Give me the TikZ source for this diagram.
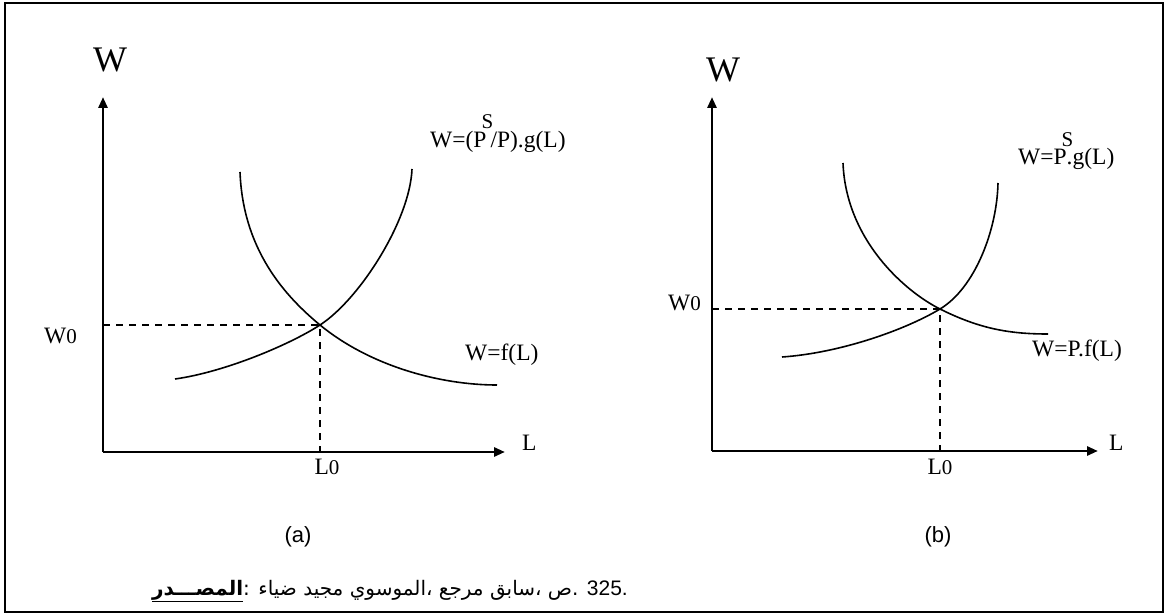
\documentclass[tikz,border=0pt]{standalone}
\usepackage{fontspec}
\setmainfont{Liberation Serif}
\newfontfamily\sansf{Liberation Sans}
\newfontfamily\arabicfont[Script=Arabic]{DejaVu Sans}
\TeXXeTstate=1
\usetikzlibrary{arrows.meta}
\newcommand\fsz[1]{\fontsize{#1}{#1}\selectfont}
\newcommand\ar[1]{\beginR#1\endR}
\tikzset{
  axisline/.style={line width=2.8pt,-{Triangle[length=11pt,width=9pt]}},
  dsh/.style={line width=1.5pt,dash pattern=on 7pt off 6pt},
  curve/.style={line width=1.6pt},
  lbl/.style={inner sep=0pt,font=\fsz{23.5}},
  big/.style={inner sep=0pt,font=\fsz{36}},
  captxt/.style={inner sep=0pt,font=\sansf\fsz{22}},
}
\begin{document}
\begin{tikzpicture}[x=1pt,y=-1pt]
\useasboundingbox (0,0) rectangle (1168,615);
\draw[line width=1.5pt] (5,3) rectangle (1163,612);
% ---- panel (a)
\coordinate (Oa) at (103,452);
\coordinate (Ya) at (103,97);
\coordinate (Xa) at (505,452);
\coordinate (Ea) at (320,325);
\coordinate (Da1) at (240,172);
\coordinate (Da2) at (497,385);
\coordinate (Sa1) at (175,379);
\coordinate (Sa2) at (412,169);
\draw[axisline] (Oa) -- (Ya);
\draw[axisline] (Oa) -- (Xa);
\draw[dsh] (Oa |- Ea) -- (Ea) -- (Ea |- Oa);
\draw[curve] (Da1) .. controls (243,250) and (285,296) .. (Ea)
                   .. controls (370,366) and (440,385) .. (Da2);
\draw[curve] (Sa1) .. controls (225,372) and (290,344.5) .. (Ea)
                   .. controls (360,299) and (410,220) .. (Sa2);
\node[big,anchor=base] (Wa) at (110,72) {W};
\node[lbl,anchor=base west] (La) at (522,450) {L};
\node[lbl,anchor=base east] (W0a) at (77,343) {W{\fsz{21}0}};
\node[lbl,anchor=base] (L0a) at (327,474) {L{\fsz{21}0}};
\node[lbl,anchor=base west] (Sa) at (430,148) {W=(P\makebox[0pt][l]{\hspace{-5pt}\raisebox{19pt}{\fsz{21}S}}\hspace{4pt}/P).g(L)};
\node[lbl,anchor=base west] (Dla) at (465,360) {W=f(L)};
\node[captxt] (capa) at (298,537) {(a)};
% ---- panel (b)
\coordinate (Ob) at (712,451);
\coordinate (Yb) at (712,97);
\coordinate (Xb) at (1098,451);
\coordinate (Eb) at (940,309);
\coordinate (Db1) at (843,163);
\coordinate (Db2) at (1048,334);
\coordinate (Sb1) at (782,357);
\coordinate (Sb2) at (998,183);
\draw[axisline] (Ob) -- (Yb);
\draw[axisline] (Ob) -- (Xb);
\draw[dsh] (Ob |- Eb) -- (Eb) -- (Eb |- Ob);
\draw[curve] (Db1) .. controls (846,240) and (905,291.5) .. (Eb)
                   .. controls (980,329) and (1010,334) .. (Db2);
\draw[curve] (Sb1) .. controls (840,353) and (905,330) .. (Eb)
                   .. controls (975,288) and (997,230) .. (Sb2);
\node[big,anchor=base] (Wb) at (723,82) {W};
\node[lbl,anchor=base west] (Lb) at (1109,450) {L};
\node[lbl,anchor=base east] (W0b) at (701,310) {W{\fsz{21}0}};
\node[lbl,anchor=base] (L0b) at (940,474) {L{\fsz{21}0}};
\node[lbl,anchor=base west] (Sbl) at (1018,165) {W=P\makebox[0pt][l]{\hspace{-5pt}\raisebox{19pt}{\fsz{21}S}}.g(L)};
\node[lbl,anchor=base west] (Dbl) at (1032,356) {W=P.f(L)};
\node[captxt] (capb) at (938,537) {(b)};
% ---- source line
\node[inner sep=0pt,anchor=base east,font=\arabicfont\fsz{20}] (src) at (628,595) {%
  \underline{\hbox{\bfseries\ar{المصـــدر}}}: \ar{ضياء} \ar{مجيد} \ar{الموسوي}، \ar{مرجع} \ar{سابق}، \ar{ص}. {\sansf\fsz{21}325.}};
\end{tikzpicture}
\end{document}
